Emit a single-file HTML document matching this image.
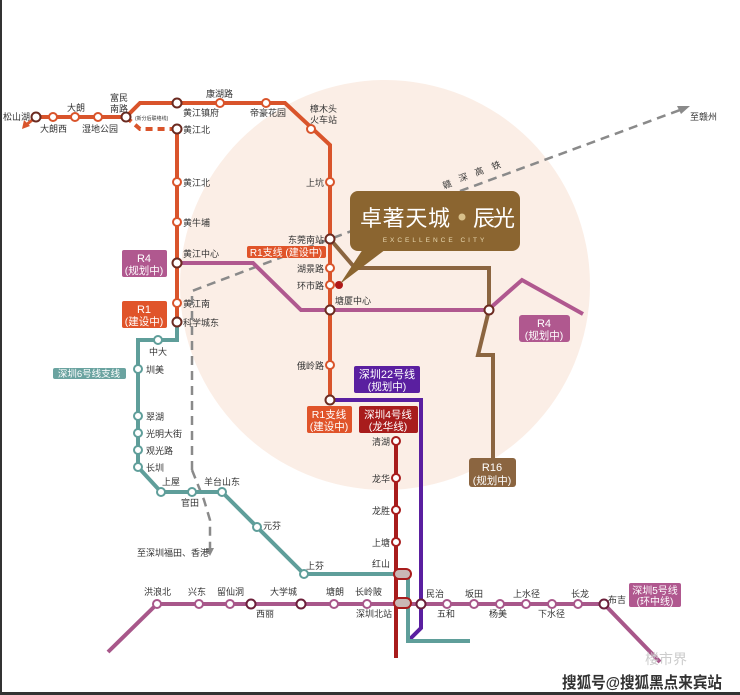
<!DOCTYPE html>
<html><head><meta charset="utf-8"><style>
html,body{margin:0;padding:0;background:#fff;}
svg{display:block;}
text{font-family:"Liberation Sans","Noto Sans CJK SC",sans-serif;}
.s{font-size:9px;fill:#333;}
.e{text-anchor:end;}
.w{fill:#fff;text-anchor:middle;}
</style></head><body>
<svg width="740" height="695" viewBox="0 0 740 695" xmlns="http://www.w3.org/2000/svg">
<rect x="0" y="0" width="740" height="695" fill="#fff"/>
<circle cx="385" cy="285" r="205" fill="#fbeee6"/>
<rect x="0" y="0" width="2" height="695" fill="#333"/>
<rect x="0" y="692" width="740" height="3" fill="#333"/>

<g fill="none" stroke="#8a8a8a" stroke-width="2.5" stroke-dasharray="9,6">
<polyline points="192,470 192,291 330,239 680,110"/>
<polyline points="192,470 204,500 210,520 210,548"/>
</g>
<polygon points="690,106 677,106 681,114" fill="#8a8a8a"/>
<polygon points="210,556 206,548 214,548" fill="#8a8a8a"/>
<text x="690" y="120" class="s" font-size="9">至赣州</text>
<text x="137" y="556" class="s" font-size="9">至深圳福田、香港</text>
<g class="s" fill="#888" font-size="10">
<text x="444" y="189" transform="rotate(-20 444 189)">赣</text>
<text x="460" y="182" transform="rotate(-20 460 182)">深</text>
<text x="476" y="176" transform="rotate(-20 476 176)">高</text>
<text x="493" y="170" transform="rotate(-20 493 170)">铁</text>
</g>

<polyline points="330,239 355,268 489,268 489,310 478,355 493,355 493,458" fill="none" stroke="#8b6540" stroke-width="4"/>
<polyline points="177,263 253,263 301,310 488,310 522,280 583,314" fill="none" stroke="#b0588f" stroke-width="4"/>
<polyline points="330,400 421,400 421,628 408,641" fill="none" stroke="#5a1fa0" stroke-width="4"/>
<polyline points="177,322 177,340 138,340 138,467 161,492 222,492 304,574 402,574" fill="none" stroke="#5f9e9a" stroke-width="4"/>
<polyline points="408,574 408,641 470,641" fill="none" stroke="#5f9e9a" stroke-width="4"/>
<polyline points="36,117 126,117 140,103 285,103 330,145 330,400" fill="none" stroke="#d9542b" stroke-width="4"/>
<polyline points="126,117 140,129 177,129" fill="none" stroke="#d9542b" stroke-width="4" stroke-dasharray="7,5"/>
<line x1="177" y1="129" x2="177" y2="322" stroke="#d9542b" stroke-width="4"/>
<polyline points="36,117 26,125" fill="none" stroke="#d9542b" stroke-width="3"/>
<polygon points="22,129 24,120 30,126" fill="#d9542b"/>
<polyline points="108,652 157,604 604,604 660,662" fill="none" stroke="#a8578a" stroke-width="4"/>
<line x1="396" y1="441" x2="396" y2="658" stroke="#a81c1c" stroke-width="4"/>

<g fill="#fff" stroke="#d9542b" stroke-width="2">
<circle cx="53" cy="117" r="4"/><circle cx="75" cy="117" r="4"/><circle cx="98" cy="117" r="4"/>
<circle cx="220" cy="103" r="4"/><circle cx="266" cy="103" r="4"/><circle cx="311" cy="129" r="4"/>
<circle cx="330" cy="182" r="4"/><circle cx="330" cy="268" r="4"/><circle cx="330" cy="285" r="4"/><circle cx="330" cy="365" r="4"/>
<circle cx="177" cy="182" r="4"/><circle cx="177" cy="222" r="4"/><circle cx="177" cy="303" r="4"/>
</g>
<g fill="#fff" stroke="#6b2a20" stroke-width="2">
<circle cx="36" cy="117" r="4.5"/><circle cx="126" cy="117" r="4.5"/><circle cx="177" cy="103" r="4.5"/><circle cx="177" cy="129" r="4.5"/>
<circle cx="330" cy="239" r="4.5"/><circle cx="330" cy="310" r="4.5"/><circle cx="330" cy="400" r="4.5"/><circle cx="177" cy="263" r="4.5"/><circle cx="177" cy="322" r="4.5"/>
<circle cx="489" cy="310" r="4.5"/>
</g>
<circle cx="339" cy="285" r="4" fill="#b01818"/>
<g fill="#fff" stroke="#5f9e9a" stroke-width="2">
<circle cx="158" cy="340" r="4"/><circle cx="138" cy="369" r="4"/><circle cx="138" cy="416" r="4"/><circle cx="138" cy="433" r="4"/><circle cx="138" cy="450" r="4"/><circle cx="138" cy="467" r="4"/>
<circle cx="161" cy="492" r="4"/><circle cx="192" cy="492" r="4"/><circle cx="222" cy="492" r="4"/><circle cx="257" cy="527" r="4"/><circle cx="304" cy="574" r="4"/>
</g>
<g fill="#fff" stroke="#a81c1c" stroke-width="2">
<circle cx="396" cy="441" r="4"/><circle cx="396" cy="478" r="4"/><circle cx="396" cy="510" r="4"/><circle cx="396" cy="542" r="4"/>
</g>
<g fill="#fff" stroke="#a8578a" stroke-width="2">
<circle cx="157" cy="604" r="4"/><circle cx="199" cy="604" r="4"/><circle cx="230" cy="604" r="4"/><circle cx="334" cy="604" r="4"/><circle cx="367" cy="604" r="4"/>
<circle cx="447" cy="604" r="4"/><circle cx="474" cy="604" r="4"/><circle cx="500" cy="604" r="4"/><circle cx="526" cy="604" r="4"/><circle cx="552" cy="604" r="4"/><circle cx="578" cy="604" r="4"/>
</g>
<g fill="#fff" stroke="#6b1f3a" stroke-width="2">
<circle cx="251" cy="604" r="4.5"/><circle cx="301" cy="604" r="4.5"/><circle cx="421" cy="604" r="4.5"/><circle cx="604" cy="604" r="4.5"/>
</g>
<g fill="#c9b8b5" stroke="#a81c1c" stroke-width="2">
<rect x="394" y="569" width="17" height="10" rx="5"/><rect x="394" y="598" width="17" height="10" rx="5"/>
</g>

<g class="s">
<text x="30" y="120" class="e">松山湖</text><text x="40" y="132">大朗西</text><text x="67" y="111">大朗</text><text x="82" y="132">湿地公园</text>
<text x="110" y="101">富民</text><text x="110" y="112">南路</text>
<text x="135" y="120" font-size="5">(新分后联络线)</text>
<text x="183" y="116">黄江镇府</text><text x="206" y="97">康湖路</text><text x="250" y="116">帝豪花园</text>
<text x="310" y="112">樟木头</text><text x="310" y="123">火车站</text>
<text x="183" y="133">黄江北</text><text x="183" y="186">黄江北</text><text x="183" y="226">黄牛埔</text><text x="183" y="257">黄江中心</text>
<text x="183" y="307">黄江南</text><text x="183" y="326">科学城东</text>
<text x="324" y="186" class="e">上坑</text><text x="324" y="243" class="e">东莞南站</text><text x="324" y="272" class="e">湖景路</text><text x="324" y="289" class="e">环市路</text>
<text x="335" y="304">塘厦中心</text><text x="324" y="369" class="e">俄岭路</text>
<text x="149" y="355">中大</text><text x="146" y="373">圳美</text><text x="146" y="420">翠湖</text><text x="146" y="437">光明大街</text><text x="146" y="454">观光路</text><text x="146" y="471">长圳</text>
<text x="162" y="485">上屋</text><text x="181" y="506">官田</text><text x="204" y="485">羊台山东</text><text x="263" y="529">元芬</text><text x="306" y="569">上芬</text>
<text x="390" y="445" class="e">清湖</text><text x="390" y="482" class="e">龙华</text><text x="390" y="514" class="e">龙胜</text><text x="390" y="546" class="e">上塘</text><text x="390" y="567" class="e">红山</text>
<text x="144" y="595">洪浪北</text><text x="188" y="595">兴东</text><text x="217" y="595">留仙洞</text><text x="256" y="617">西丽</text><text x="270" y="595">大学城</text>
<text x="326" y="595">塘朗</text><text x="355" y="595">长岭陂</text><text x="356" y="617">深圳北站</text>
<text x="426" y="597">民治</text><text x="437" y="617">五和</text><text x="465" y="597">坂田</text><text x="489" y="617">杨美</text><text x="513" y="597">上水径</text><text x="538" y="617">下水径</text><text x="571" y="597">长龙</text><text x="608" y="603">布吉</text>
</g>

<rect x="122" y="250" width="45" height="27" rx="2" fill="#b0588f"/>
<text x="144" y="262" class="w" font-size="11">R4</text><text x="144" y="274" class="w" font-size="10.5">(规划中)</text>
<rect x="122" y="301" width="45" height="27" rx="2" fill="#e0542a"/>
<text x="144" y="313" class="w" font-size="11">R1</text><text x="144" y="325" class="w" font-size="10.5">(建设中)</text>
<rect x="247" y="246" width="79" height="12" rx="2" fill="#e0542a"/>
<text x="286" y="256" class="w" font-size="10">R1支线 (建设中)</text>
<rect x="53" y="368" width="73" height="11" rx="2" fill="#6aa3a0"/>
<text x="89" y="377" class="w" font-size="9.5">深圳6号线支线</text>
<rect x="354" y="366" width="66" height="27" rx="2" fill="#5a1fa0"/>
<text x="387" y="378" class="w" font-size="11">深圳22号线</text><text x="387" y="390" class="w" font-size="10.5">(规划中)</text>
<rect x="307" y="406" width="45" height="27" rx="2" fill="#e0542a"/>
<text x="329" y="418" class="w" font-size="10.5">R1支线</text><text x="329" y="430" class="w" font-size="10.5">(建设中)</text>
<rect x="359" y="406" width="59" height="27" rx="2" fill="#a81c1c"/>
<text x="388" y="418" class="w" font-size="10.5">深圳4号线</text><text x="388" y="430" class="w" font-size="10.5">(龙华线)</text>
<rect x="519" y="315" width="51" height="27" rx="3" fill="#b0588f"/>
<text x="544" y="327" class="w" font-size="11">R4</text><text x="544" y="339" class="w" font-size="10.5">(规划中)</text>
<rect x="469" y="458" width="47" height="29" rx="3" fill="#8b6540"/>
<text x="492" y="471" class="w" font-size="11">R16</text><text x="492" y="484" class="w" font-size="10.5">(规划中)</text>
<rect x="629" y="583" width="52" height="24" rx="2" fill="#b0588f"/>
<text x="655" y="594" class="w" font-size="10">深圳5号线</text><text x="655" y="605" class="w" font-size="10">(环中线)</text>

<polygon points="340,284 365,246 390,246" fill="#8b6530"/>
<rect x="350" y="191" width="170" height="60" rx="8" fill="#8b6530"/>
<text x="360" y="226" fill="#fff" font-size="22" textLength="90" font-family="'Noto Serif CJK SC','Noto Sans CJK SC',serif">卓著天城</text>
<circle cx="462" cy="217" r="3.5" fill="#d8c08a"/>
<text x="473" y="226" fill="#fff" font-size="22" textLength="42" font-family="'Noto Serif CJK SC','Noto Sans CJK SC',serif">辰光</text>
<text x="435" y="242" fill="#e8d8b0" font-size="6.5" text-anchor="middle" letter-spacing="3" font-family="'Liberation Serif',serif">EXCELLENCE CITY</text>

<text x="645" y="664" fill="#ccc" font-size="14">楼市界</text>
<text x="562" y="688" fill="#333" font-size="16" font-weight="bold" textLength="160" lengthAdjust="spacingAndGlyphs">搜狐号@搜狐黑点来宾站</text>
</svg>
</body></html>
